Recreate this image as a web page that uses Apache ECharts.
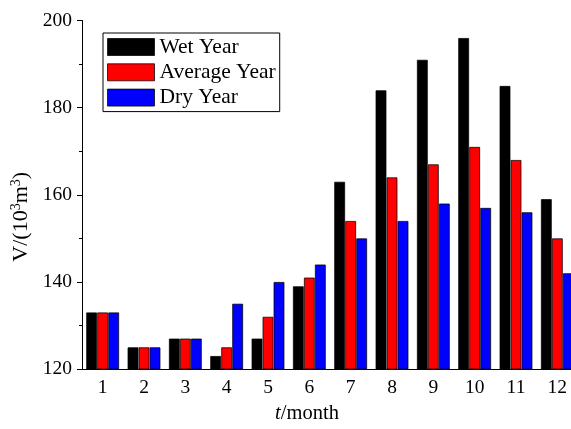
<!DOCTYPE html>
<html><head><meta charset="utf-8">
<script src="https://cdn.jsdelivr.net/npm/echarts@6/dist/echarts.min.js"></script>
<style>html,body{margin:0;padding:0;background:#fff;overflow:hidden}#c{width:578px;height:429px}</style>
</head><body><div id="c"></div>
<script>
var months = ['1','2','3','4','5','6','7','8','9','10','11','12'];
var wetYear = [133,125,127,123,127,139,163,184,191,196,185,159];
var averageYear = [133,125,127,125,132,141,154,164,167,171,168,150];
var dryYear = [133,125,127,135,140,144,150,154,158,157,156,142];
var seriesNames = ['Wet Year','Average Year','Dry Year'];
var colors = ['#000000','#ff0000','#0000ff'];

var FONT = 'Liberation Serif';
var chart = echarts.init(document.getElementById('c'), null, {renderer:'canvas'});
function bar(name, data, color){
  return {name:name, type:'bar', data:data, barWidth:11, barGap:'0%',
    itemStyle:{color:color, borderColor:'rgba(0,0,0,0.75)', borderWidth:1}};
}
chart.setOption({
  animation:false,
  textStyle:{fontFamily:FONT},
  grid:{left:82, right:0, top:20.5, bottom:54.5},
  legend:{
    left:103, top:33, orient:'vertical',
    data:seriesNames, icon:'rect',
    itemWidth:47, itemHeight:17, itemGap:3.3,
    padding:[3,4,3,4],
    borderColor:'#000', borderWidth:1,
    textStyle:{fontFamily:FONT, fontSize:21.5, color:'#000'},
    itemStyle:{borderColor:'rgba(0,0,0,0.75)', borderWidth:1}
  },
  xAxis:[{
    type:'category', data:months,
    axisLine:{lineStyle:{color:'#000', width:1}},
    axisTick:{alignWithLabel:true, length:5, inside:false, lineStyle:{color:'#000'}},
    axisLabel:{fontFamily:FONT, fontSize:19.5, color:'#000', margin:9},
    name:'{i|t}/month', nameLocation:'middle', nameGap:34,
    nameTextStyle:{fontFamily:FONT, fontSize:20.5, color:'#000', padding:[0,46,0,0],
      rich:{i:{fontFamily:FONT, fontSize:20.5, fontStyle:'italic', color:'#000'}}}
  },{
    type:'category', data:months, position:'bottom',
    axisLine:{show:false},
    axisTick:{alignWithLabel:false, length:3, lineStyle:{color:'#000'}},
    axisLabel:{show:false}
  }],
  yAxis:{
    type:'value', min:120, max:200, interval:20,
    axisLine:{show:true, lineStyle:{color:'#000', width:1}},
    axisTick:{show:true, length:5, lineStyle:{color:'#000'}},
    minorTick:{show:true, splitNumber:2, length:3, lineStyle:{color:'#000'}},
    splitLine:{show:false},
    axisLabel:{fontFamily:FONT, fontSize:19.5, color:'#000', margin:10},
    name:'V/(10{s|3}m{s|3})', nameLocation:'middle', nameGap:45, nameRotate:90,
    nameTextStyle:{fontFamily:FONT, fontSize:22, color:'#000', padding:[0,44,0,0],
      rich:{s:{fontFamily:FONT, fontSize:14, color:'#000', padding:[0,0,10,0]}}}
  },
  series:[bar(seriesNames[0], wetYear, colors[0]), bar(seriesNames[1], averageYear, colors[1]), bar(seriesNames[2], dryYear, colors[2])]
});
</script></body></html>
